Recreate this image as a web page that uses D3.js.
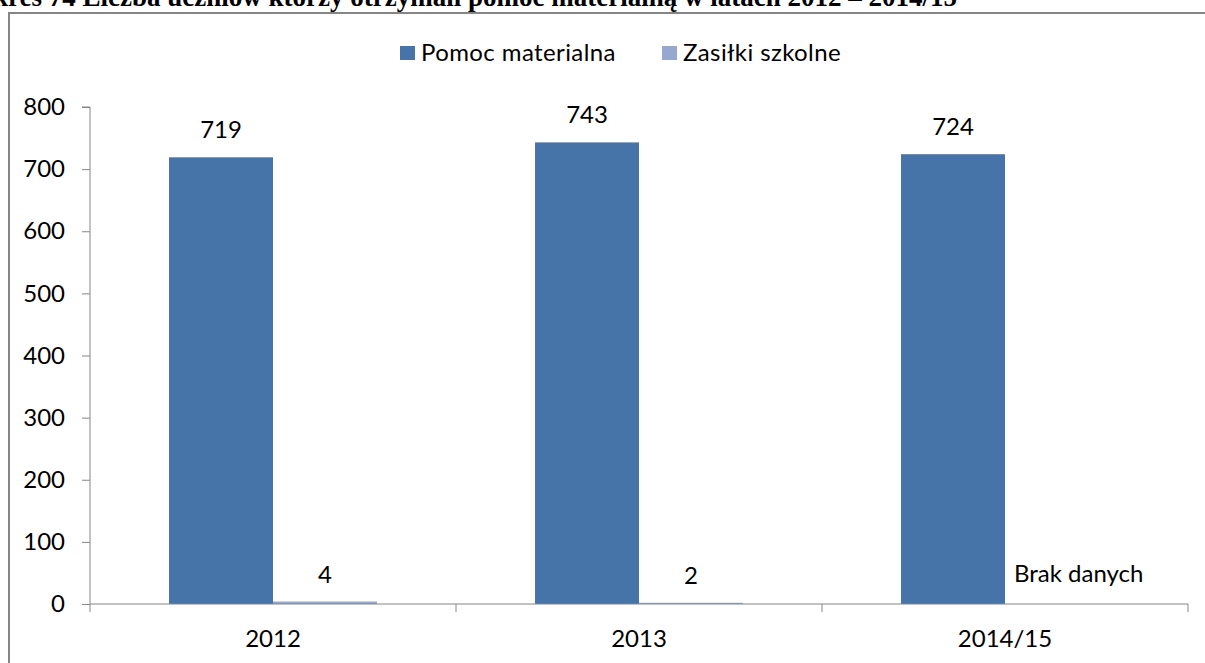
<!DOCTYPE html>
<html><head><meta charset="utf-8">
<script src="https://cdn.jsdelivr.net/npm/d3@7"></script>
<style>body{margin:0;background:#fff;overflow:hidden}svg{display:block}</style>
</head><body>
<script>
const title = "Wykres 74 Liczba uczniów którzy otrzymali pomoc materialną w latach 2012 – 2014/15";
const categories = ["2012", "2013", "2014/15"];
const seriesNames = ["Pomoc materialna", "Zasiłki szkolne"];
const pomocMaterialna = [719, 743, 724];
const zasilkiSzkolne = [4, 2, null];
const yTicks = [0, 100, 200, 300, 400, 500, 600, 700, 800];
const missingLabel = "Brak danych";
const colors = ["#4673A8", "#94A8D0"];

const W = 1205, H = 663;
const svg = d3.select("body").append("svg").attr("width", W).attr("height", H);
const font = "Lato, 'Open Sans', sans-serif";
const fs = 24;

svg.append("text").attr("x", 957).attr("y", 6).attr("text-anchor", "end")
  .attr("font-family", "'Liberation Serif', serif").attr("font-weight", "bold")
  .attr("font-size", 27).text(title);

// frame
svg.append("path").attr("d", `M9,${H+5} V13 H${W+5}`).attr("fill", "none")
  .attr("stroke", "#868686").attr("stroke-width", 2);

const x0 = 90, x1 = 1188, yTop = 107, yBot = 604;
const x = d3.scaleBand().domain(categories).range([x0, x1]);
const xs = d3.scaleBand().domain(seriesNames).range([0, x.bandwidth()]).paddingInner(0).paddingOuter(0.76);
const y = d3.scaleLinear().domain([0, 800]).range([yBot, yTop]);

const data = categories.map((c, i) => ({ c, vals: [pomocMaterialna[i], zasilkiSzkolne[i]] }));

// bars
const g = svg.append("g");
data.forEach(d => {
  d.vals.forEach((v, j) => {
    const bx = x(d.c) + xs(seriesNames[j]);
    if (v != null) {
      g.append("rect").attr("x", bx).attr("width", xs.bandwidth())
        .attr("y", y(v)).attr("height", y(0) - y(v)).attr("fill", colors[j]);
      g.append("text").attr("x", bx + xs.bandwidth() / 2).attr("y", y(v) - 19)
        .attr("text-anchor", "middle").attr("font-family", font).attr("font-size", fs)
        .attr("fill", "#000").text(v);
    } else {
      g.append("text").attr("x", bx + 9).attr("y", y(0) - 22)
        .attr("font-family", font).attr("font-size", fs).attr("fill", "#000").text(missingLabel);
    }
  });
});

// y axis
const ya = svg.append("g").attr("transform", `translate(${x0},0)`)
  .call(d3.axisLeft(y).tickValues(yTicks).tickSize(8).tickPadding(17).tickFormat(d3.format("d")));
ya.select(".domain").attr("stroke", "#868686").attr("d", `M-8,${yTop}H0V${yBot}`);
ya.selectAll(".tick line").attr("stroke", "#868686");
ya.selectAll("text").attr("font-family", font).attr("font-size", fs).attr("fill", "#000");

// x axis
const xa = svg.append("g").attr("transform", `translate(0,${yBot})`)
  .call(d3.axisBottom(x).tickSize(0).tickPadding(0));
xa.select(".domain").attr("stroke", "#868686").attr("d", `M${x0},0H${x1}`);
xa.selectAll("text").attr("font-family", font).attr("font-size", fs).attr("fill", "#000")
  .attr("dy", null).attr("y", 43);
const bounds = [x0].concat(categories.map(c => x(c) + x.bandwidth()));
xa.selectAll(".bt").data(bounds).enter().append("line").attr("class", "bt")
  .attr("x1", d => d).attr("x2", d => d).attr("y1", 0).attr("y2", 8).attr("stroke", "#868686");

// legend
const lg = svg.append("g");
const lx = [400, 662];
seriesNames.forEach((s, i) => {
  lg.append("rect").attr("x", lx[i]).attr("y", 46).attr("width", 15).attr("height", 14).attr("fill", colors[i]);
  lg.append("text").attr("x", lx[i] + 21).attr("y", 61).attr("font-family", font)
    .attr("font-size", fs).attr("letter-spacing", 0.4).attr("fill", "#000").text(s);
});
</script>
</body></html>
